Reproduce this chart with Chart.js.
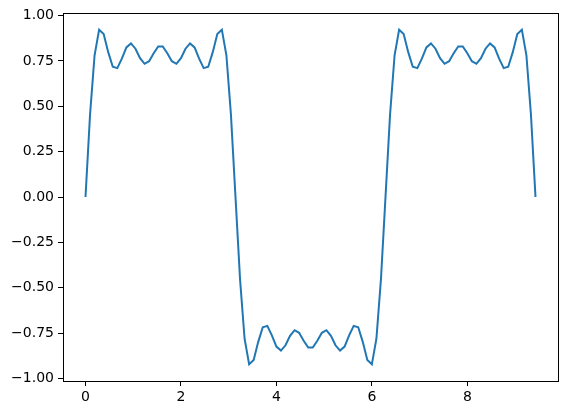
<!DOCTYPE html>
<html>
<head>
<meta charset="utf-8">
<script src="https://cdn.jsdelivr.net/npm/chart.js@4"></script>
<style>
  body { margin: 0; background: #fff; }
  canvas { display: block; }
</style>
</head>
<body>
<canvas id="chart" width="568" height="416"></canvas>
<script>
// sample positions along x (0 .. 3π)
const xValues = [
  0, 0.0952, 0.1904, 0.2856, 0.3808, 0.4760, 0.5712, 0.6664, 0.7616, 0.8568,
  0.9520, 1.0472, 1.1424, 1.2376, 1.3328, 1.4280, 1.5232, 1.6184, 1.7136, 1.8088,
  1.9040, 1.9992, 2.0944, 2.1896, 2.2848, 2.3800, 2.4752, 2.5704, 2.6656, 2.7608,
  2.8560, 2.9512, 3.0464, 3.1416, 3.2368, 3.3320, 3.4272, 3.5224, 3.6176, 3.7128,
  3.8080, 3.9032, 3.9984, 4.0936, 4.1888, 4.2840, 4.3792, 4.4744, 4.5696, 4.6648,
  4.7600, 4.8552, 4.9504, 5.0456, 5.1408, 5.2360, 5.3312, 5.4264, 5.5216, 5.6168,
  5.7120, 5.8072, 5.9024, 5.9976, 6.0928, 6.1880, 6.2832, 6.3784, 6.4736, 6.5688,
  6.6640, 6.7592, 6.8544, 6.9496, 7.0448, 7.1400, 7.2352, 7.3304, 7.4256, 7.5208,
  7.6160, 7.7112, 7.8064, 7.9016, 7.9968, 8.0920, 8.1872, 8.2824, 8.3776, 8.4728,
  8.5680, 8.6632, 8.7584, 8.8536, 8.9488, 9.0440, 9.1392, 9.2344, 9.3296, 9.4248
];

// wave values
const yValues = [
  0, 0.453, 0.781, 0.922, 0.898, 0.798, 0.718, 0.710, 0.762, 0.824,
  0.846, 0.817, 0.765, 0.734, 0.748, 0.792, 0.829, 0.829, 0.792, 0.748,
  0.734, 0.765, 0.817, 0.846, 0.824, 0.762, 0.710, 0.718, 0.798, 0.898,
  0.922, 0.781, 0.453, 0, -0.453, -0.781, -0.922, -0.898, -0.798, -0.718,
  -0.710, -0.762, -0.824, -0.846, -0.817, -0.765, -0.734, -0.748, -0.792, -0.829,
  -0.829, -0.792, -0.748, -0.734, -0.765, -0.817, -0.846, -0.824, -0.762, -0.710,
  -0.718, -0.798, -0.898, -0.922, -0.781, -0.453, 0, 0.453, 0.781, 0.922,
  0.898, 0.798, 0.718, 0.710, 0.762, 0.824, 0.846, 0.817, 0.765, 0.734,
  0.748, 0.792, 0.829, 0.829, 0.792, 0.748, 0.734, 0.765, 0.817, 0.846,
  0.824, 0.762, 0.710, 0.718, 0.798, 0.898, 0.922, 0.781, 0.453, 0
];

const xTicks = [0, 2, 4, 6, 8];
const yTicks = [-1, -0.75, -0.5, -0.25, 0, 0.25, 0.5, 0.75, 1];

const points = xValues.map((x, i) => ({ x: x, y: yValues[i] }));

const font = { family: 'DejaVu Sans', size: 14 };

// top and right spines like matplotlib's box
const frame = {
  id: 'frame',
  afterDraw(chart) {
    const a = chart.chartArea;
    const c = chart.ctx;
    c.save();
    c.strokeStyle = '#000';
    c.lineWidth = 1;
    c.strokeRect(Math.round(a.left) + 0.5, Math.round(a.top) + 0.5,
      Math.round(a.right - a.left), Math.round(a.bottom - a.top));
    c.restore();
  }
};

new Chart(document.getElementById('chart'), {
  type: 'line',
  data: {
    datasets: [{
      data: points,
      borderColor: '#1f77b4',
      borderWidth: 2,
      pointRadius: 0,
      tension: 0,
      fill: false
    }]
  },
  options: {
    responsive: false,
    animation: false,
    devicePixelRatio: 1,
    layout: { padding: { top: 13, right: 10, left: 0, bottom: 0 } },
    plugins: { legend: { display: false }, tooltip: { enabled: false } },
    scales: {
      x: {
        type: 'linear',
        min: -0.471,
        max: 9.896,
        afterBuildTicks: (s) => { s.ticks = xTicks.map(v => ({ value: v })); },
        afterFit: (s) => { s.height = 35; },
        border: { color: '#000', width: 1 },
        grid: { drawOnChartArea: false, tickLength: 5, tickColor: '#000', tickWidth: 1 },
        ticks: { font: font, color: '#000', padding: 3, maxRotation: 0,
          callback: (v) => String(v) }
      },
      y: {
        type: 'linear',
        min: -1.0138,
        max: 1.0138,
        afterBuildTicks: (s) => { s.ticks = yTicks.map(v => ({ value: v })); },
        afterFit: (s) => { s.width = 63; },
        border: { color: '#000', width: 1 },
        grid: { drawOnChartArea: false, tickLength: 5, tickColor: '#000', tickWidth: 1 },
        ticks: { font: font, color: '#000', padding: 4,
          callback: (v) => v.toFixed(2).replace('-', '\u2212') }
      }
    }
  },
  plugins: [frame]
});
</script>
</body>
</html>
